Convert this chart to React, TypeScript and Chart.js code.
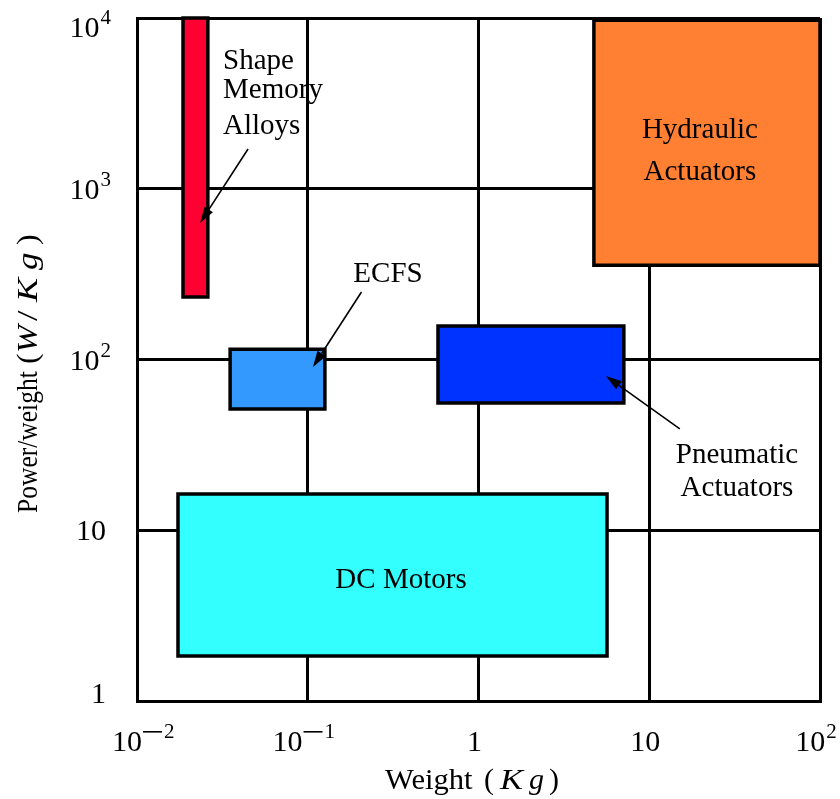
import React, { useEffect, useRef } from 'react';
import { Chart, registerables } from 'chart.js';

Chart.register(...registerables);

// ---- data ----
const categories = ['Shape Memory Alloys', 'ECFS', 'Pneumatic Actuators', 'Hydraulic Actuators', 'DC Motors'];
const weightMin = [0.0186, 0.0351, 0.579, 4.74, 0.01738];
const weightMax = [0.026, 0.126, 7.1, 100, 5.66];
const powerMin = [232, 51.3, 55.6, 357, 1.835];
const powerMax = [10000, 115, 157, 9700, 16.3];
const fillColors = ['#ff0033', '#3399ff', '#0033ff', '#ff8033', '#33ffff'];

const xTickValues = [0.01, 0.1, 1, 10, 100];
const xTickBase = ['10', '10', '1', '10', '10'];
const xTickExp = ['\u22122', '\u22121', '', '', '2'];
const yTickValues = [1, 10, 100, 1000, 10000];
const yTickBase = ['1', '10', '10', '10', '10'];
const yTickExp = ['', '', '2', '3', '4'];

const labelTexts = ['Shape', 'Memory', 'Alloys', 'ECFS', 'Hydraulic', 'Actuators', 'Pneumatic', 'Actuators', 'DC Motors'];
const labelX = [0.0319, 0.0319, 0.0319, 0.2951, 19.8, 19.8, 32.65, 32.65, 0.3517];
const labelY = [5026, 3401, 2093, 284.4, 1983, 1125, 24.77, 15.87, 4.59];
const labelAlign = ['left', 'left', 'left', 'center', 'center', 'center', 'center', 'center', 'center'];

const arrowFromX = [0.0447, 0.2064, 15.1];
const arrowFromY = [1709, 248.5, 39.2];
const arrowToX = [0.0234, 0.1073, 5.58];
const arrowToY = [630, 90.4, 80.1];

// title pieces: text, italic
const xTitleText = ['Weight', '(', 'K', 'g', ')'];
const xTitleItalic = [false, false, true, true, false];
const yTitleText = ['Power/weight', '(', 'W', '/', 'K', 'g', ')'];
const yTitleItalic = [false, false, true, false, true, true, false];

const FONT_FAMILY = '"Liberation Serif", "Times New Roman", serif';
const FS = 29;
const TICK_FS = 30;
const EXP_FS = 21;

function font(size: number, italic = false) {
  return `${italic ? 'italic ' : ''}${size}px ${FONT_FAMILY}`;
}

function expWidth(ctx: CanvasRenderingContext2D, exp: string) {
  if (!exp) return 0;
  ctx.font = font(EXP_FS);
  if (exp.startsWith('\u2212')) {
    return 22 + ctx.measureText(exp.slice(1)).width;
  }
  return 1 + ctx.measureText(exp).width;
}

function powerWidth(ctx: CanvasRenderingContext2D, base: string, exp: string) {
  ctx.font = font(TICK_FS);
  return ctx.measureText(base).width + expWidth(ctx, exp);
}

function drawPower(ctx: CanvasRenderingContext2D, base: string, exp: string, left: number, baseline: number) {
  ctx.textAlign = 'left';
  ctx.textBaseline = 'alphabetic';
  ctx.font = font(TICK_FS);
  const bw = ctx.measureText(base).width;
  ctx.fillText(base, left, baseline);
  if (!exp) return;
  const eb = baseline - 13;
  let x = left + bw + 1;
  ctx.font = font(EXP_FS);
  let rest = exp;
  if (exp.startsWith('\u2212')) {
    ctx.fillRect(x, eb - 7, 19, 1.6);
    x += 21;
    rest = exp.slice(1);
  }
  ctx.fillText(rest, x, eb);
}

function drawPiece(ctx: CanvasRenderingContext2D, text: string, italic: boolean, size: number, x: number, y: number, scaleX = 1) {
  ctx.font = font(size, italic);
  ctx.save();
  ctx.translate(x, y);
  ctx.scale(scaleX, 1);
  ctx.fillText(text, 0, 0);
  ctx.restore();
}

const overlayPlugin = {
  id: 'overlay',
  afterDraw(chart: any) {
    const ctx: CanvasRenderingContext2D = chart.ctx;
    const xs = chart.scales.x;
    const ys = chart.scales.y;
    ctx.save();
    ctx.fillStyle = '#000';
    ctx.strokeStyle = '#000';
    ctx.textAlign = 'left';
    ctx.textBaseline = 'alphabetic';

    // x tick labels
    xTickValues.forEach((v, i) => {
      const px = xs.getPixelForValue(v);
      const w = powerWidth(ctx, xTickBase[i], xTickExp[i]);
      const left = Math.max(112, px - 4 - w / 2);
      drawPower(ctx, xTickBase[i], xTickExp[i], left, 751);
    });
    // y tick labels
    yTickValues.forEach((v, i) => {
      const py = ys.getPixelForValue(v);
      const w = powerWidth(ctx, yTickBase[i], yTickExp[i]);
      let baseline = py + 10;
      baseline = Math.max(37, Math.min(703, baseline));
      const right = yTickExp[i] ? 111 : 106;
      drawPower(ctx, yTickBase[i], yTickExp[i], right - w, baseline);
    });

    // x title
    const xOff = [385, 484, 500, 529, 549];
    const xSc = [1.02, 1, 1.15, 1, 1];
    xTitleText.forEach((t, i) => {
      drawPiece(ctx, t, xTitleItalic[i], 30, xOff[i], 789, xSc[i]);
    });

    // y title, rotated
    ctx.save();
    ctx.translate(37, 513);
    ctx.rotate(-Math.PI / 2);
    const yOff = [0, 149, 160, 192, 211, 243, 268];
    const ySc = [0.88, 1.1, 1.15, 1.3, 1.25, 1.2, 1.1];
    yTitleText.forEach((t, i) => {
      drawPiece(ctx, t, yTitleItalic[i], 29, yOff[i], 0, ySc[i]);
    });
    ctx.restore();

    // labels
    ctx.font = font(FS);
    ctx.textBaseline = 'alphabetic';
    labelTexts.forEach((t, i) => {
      ctx.textAlign = labelAlign[i] as CanvasTextAlign;
      ctx.fillText(t, xs.getPixelForValue(labelX[i]), ys.getPixelForValue(labelY[i]));
    });

    // arrows
    arrowFromX.forEach((_, i) => {
      const x1 = xs.getPixelForValue(arrowFromX[i]);
      const y1 = ys.getPixelForValue(arrowFromY[i]);
      const x2 = xs.getPixelForValue(arrowToX[i]);
      const y2 = ys.getPixelForValue(arrowToY[i]);
      const ang = Math.atan2(y2 - y1, x2 - x1);
      const headLen = 16;
      const headHalf = 5;
      const bx = x2 - headLen * Math.cos(ang);
      const by = y2 - headLen * Math.sin(ang);
      ctx.lineWidth = 1.6;
      ctx.beginPath();
      ctx.moveTo(x1, y1);
      ctx.lineTo(bx, by);
      ctx.stroke();
      ctx.beginPath();
      ctx.moveTo(x2, y2);
      ctx.lineTo(bx + headHalf * Math.sin(ang), by - headHalf * Math.cos(ang));
      ctx.lineTo(bx - headHalf * Math.sin(ang), by + headHalf * Math.cos(ang));
      ctx.closePath();
      ctx.fill();
    });
    ctx.restore();
  },
};

export default function App() {
  const canvasRef = useRef<HTMLCanvasElement | null>(null);

  useEffect(() => {
    document.body.style.margin = '0';
    const canvas = canvasRef.current;
    if (!canvas) return;
    const datasets = categories.map((name, i) => ({
      label: name,
      data: [
        { x: weightMin[i], y: powerMin[i] },
        { x: weightMax[i], y: powerMin[i] },
        { x: weightMax[i], y: powerMax[i] },
        { x: weightMin[i], y: powerMax[i] },
        { x: weightMin[i], y: powerMin[i] },
      ],
      showLine: true,
      fill: 'shape',
      backgroundColor: fillColors[i],
      borderColor: '#000',
      borderWidth: 3.5,
      borderJoinStyle: 'miter',
      borderCapStyle: 'square',
      pointRadius: 0,
      pointHoverRadius: 0,
      tension: 0,
      clip: false,
    }));

    const chart = new Chart(canvas, {
      type: 'scatter',
      data: { datasets } as any,
      options: {
        animation: false,
        responsive: false,
        maintainAspectRatio: false,
        events: [],
        layout: { padding: { left: 137, top: 18, right: 20, bottom: 98 } },
        plugins: {
          legend: { display: false },
          tooltip: { enabled: false },
        },
        scales: {
          x: {
            type: 'logarithmic',
            min: 0.01,
            max: 100,
            afterBuildTicks: (s: any) => {
              s.ticks = xTickValues.map((v) => ({ value: v, major: true }));
            },
            ticks: { display: false },
            grid: { color: '#000', lineWidth: 3, drawTicks: false },
            border: { color: '#000', width: 3 },
          },
          y: {
            type: 'logarithmic',
            min: 1,
            max: 10000,
            afterBuildTicks: (s: any) => {
              s.ticks = yTickValues.map((v) => ({ value: v, major: true }));
            },
            ticks: { display: false },
            grid: { color: '#000', lineWidth: 3, drawTicks: false },
            border: { color: '#000', width: 3 },
          },
        },
      } as any,
      plugins: [overlayPlugin],
    });
    return () => chart.destroy();
  }, []);

  return (
    <div style={{ position: 'absolute', left: 0, top: 0, width: 840, height: 799, background: '#fff' }}>
      <canvas ref={canvasRef} width={840} height={799} style={{ display: 'block' }} />
    </div>
  );
}
